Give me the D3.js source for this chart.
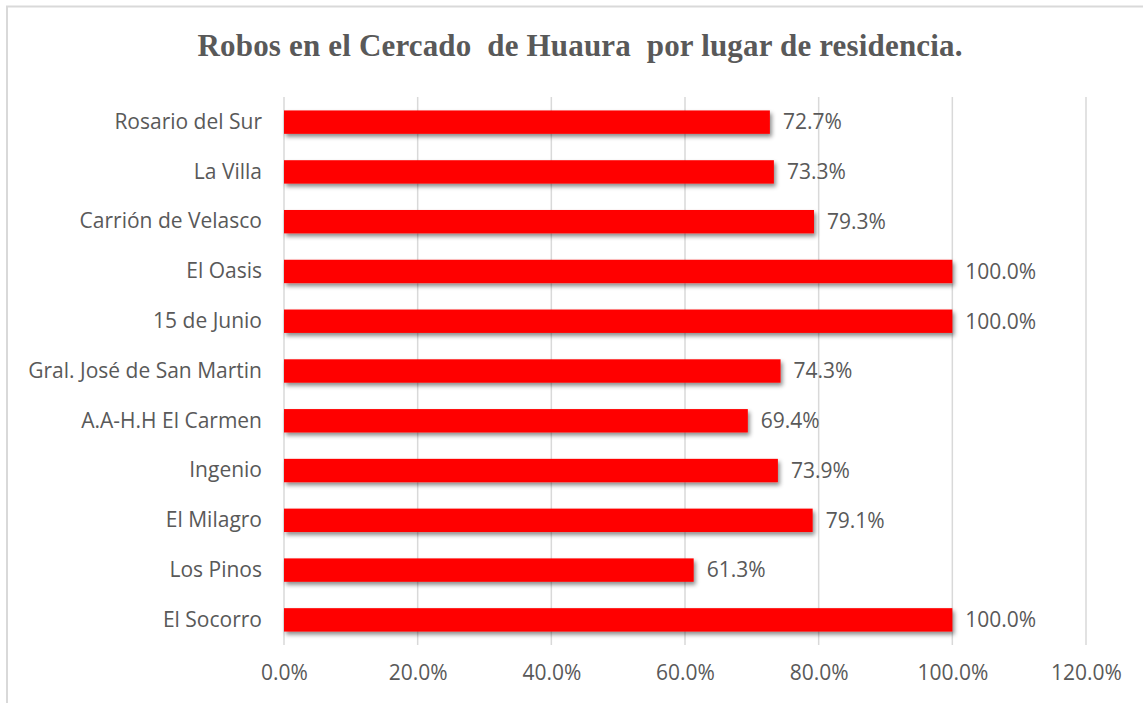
<!DOCTYPE html>
<html>
<head>
<meta charset="utf-8">
<script src="https://cdn.jsdelivr.net/npm/d3@7"></script>
<style>
  html, body { margin: 0; padding: 0; background: #fff; }
  svg { display: block; }
</style>
</head>
<body>
<div id="chart"></div>
<script>
// data, top to bottom
let places = [
  'Rosario del Sur',
  'La Villa',
  'Carrión de Velasco',
  'El Oasis',
  '15 de Junio',
  'Gral. José de San Martin',
  'A.A-H.H El Carmen',
  'Ingenio',
  'El Milagro',
  'Los Pinos',
  'El Socorro'
]
let robos = [72.7, 73.3, 79.3, 100.0, 100.0, 74.3, 69.4, 73.9, 79.1, 61.3, 100.0]
let xTicks = [0, 20, 40, 60, 80, 100, 120]
let title = 'Robos en el Cercado  de Huaura  por lugar de residencia.'

let W = 1143
let H = 703
let margin = { top: 97, left: 284, right: 57, bottom: 58 }
let width = W - margin.left - margin.right
let height = H - margin.top - margin.bottom

let font = "'Open Sans', 'Liberation Sans', sans-serif"

let svgRoot = d3
  .select('#chart')
  .append('svg')
  .attr('width', W)
  .attr('height', H)

// bar shadow
let defs = svgRoot.append('defs')
defs
  .append('filter')
  .attr('id', 'shadow')
  .attr('x', '-5%')
  .attr('y', '-30%')
  .attr('width', '115%')
  .attr('height', '180%')
  .append('feDropShadow')
  .attr('dx', 2)
  .attr('dy', 3)
  .attr('stdDeviation', 2)
  .attr('flood-color', '#000')
  .attr('flood-opacity', 0.45)

// outer frame (cut off at right and bottom)
svgRoot
  .append('rect')
  .attr('x', 7)
  .attr('y', 6.5)
  .attr('width', W + 20)
  .attr('height', H + 20)
  .attr('fill', 'none')
  .attr('stroke', '#d9d9d9')
  .attr('stroke-width', 2)

svgRoot
  .append('text')
  .attr('x', 580)
  .attr('y', 56)
  .attr('text-anchor', 'middle')
  .attr('font-family', "'Liberation Serif', 'Times New Roman', serif")
  .attr('font-weight', 'bold')
  .attr('font-size', 31)
  .attr('fill', '#595959')
  .attr('textLength', 765)
  .attr('lengthAdjust', 'spacing')
  .style('white-space', 'pre')
  .text(title)

let svg = svgRoot
  .append('g')
  .attr('transform', 'translate(' + margin.left + ',' + margin.top + ')')

var xPositionScale = d3
  .scaleLinear()
  .domain([0, 120])
  .range([0, width])

var yPositionScale = d3
  .scaleBand()
  .domain(places)
  .range([0, height])
  .paddingInner(0.53)
  .paddingOuter(0.27)

// gridlines
svg
  .selectAll('.grid')
  .data(xTicks)
  .enter()
  .append('line')
  .attr('class', 'grid')
  .attr('x1', d => xPositionScale(d))
  .attr('x2', d => xPositionScale(d))
  .attr('y1', 0)
  .attr('y2', height)
  .attr('stroke', '#d9d9d9')
  .attr('stroke-width', 1.5)

let xAxis = d3
  .axisBottom(xPositionScale)
  .tickValues(xTicks)
  .tickFormat(d => d.toFixed(1) + '%')
  .tickSize(0)
  .tickPadding(20)

svg
  .append('g')
  .attr('transform', 'translate(0,' + height + ')')
  .call(xAxis)
  .call(g => g.select('.domain').remove())
  .selectAll('text')
  .attr('font-family', font)
  .attr('font-size', 21)
  .attr('fill', '#595959')

let yAxis = d3.axisLeft(yPositionScale).tickSize(0).tickPadding(22)

svg
  .append('g')
  .call(yAxis)
  .call(g => g.select('.domain').remove())
  .selectAll('text')
  .attr('font-family', font)
  .attr('font-size', 21)
  .attr('fill', '#595959')

let rows = places.map((p, i) => ({ place: p, value: robos[i] }))

svg
  .selectAll('.bar')
  .data(rows)
  .enter()
  .append('rect')
  .attr('class', 'bar')
  .attr('x', 0)
  .attr('y', d => yPositionScale(d.place))
  .attr('width', d => xPositionScale(d.value))
  .attr('height', yPositionScale.bandwidth())
  .attr('fill', '#ff0000')
  .attr('filter', 'url(#shadow)')

svg
  .selectAll('.label')
  .data(rows)
  .enter()
  .append('text')
  .attr('class', 'label')
  .attr('x', d => xPositionScale(d.value) + 13)
  .attr('y', d => yPositionScale(d.place) + yPositionScale.bandwidth() / 2)
  .attr('dy', '0.35em')
  .attr('font-family', font)
  .attr('font-size', 21)
  .attr('fill', '#595959')
  .text(d => d.value.toFixed(1) + '%')
</script>
</body>
</html>
